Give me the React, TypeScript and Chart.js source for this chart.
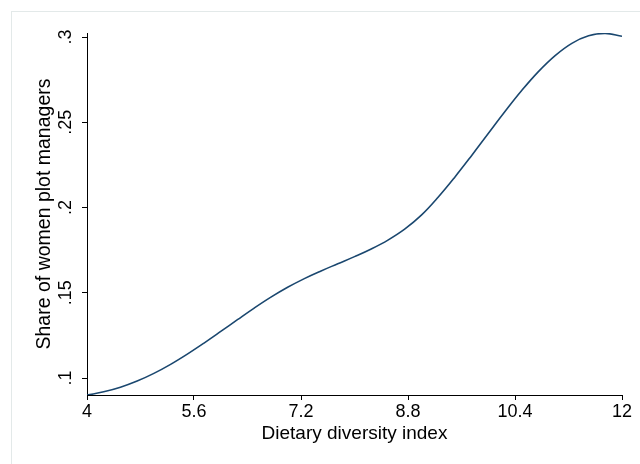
import React, { useEffect, useRef } from "react";
import { Chart, registerables } from "chart.js";

Chart.register(...registerables);

const xValues = [4, 4.25, 4.5, 4.75, 5, 5.25, 5.5, 5.75, 6, 6.25, 6.5, 6.75, 7, 7.25, 7.5, 7.75, 8, 8.25, 8.5, 8.75, 9, 9.25, 9.5, 9.75, 10, 10.25, 10.5, 10.75, 11, 11.25, 11.5, 11.75, 12];
const shareValues = [0.09, 0.0919, 0.0946, 0.0982, 0.1027, 0.108, 0.114, 0.1205, 0.1273, 0.1342, 0.141, 0.1474, 0.1532, 0.1583, 0.1628, 0.167, 0.1712, 0.1757, 0.1809, 0.1873, 0.1955, 0.206, 0.2178, 0.2304, 0.2434, 0.2563, 0.2686, 0.2797, 0.2891, 0.2963, 0.3007, 0.3021, 0.3004];
const xTicks = [4, 5.6, 7.2, 8.8, 10.4, 12];
const xTickLabels = ["4", "5.6", "7.2", "8.8", "10.4", "12"];
const yTicks = [0.1, 0.15, 0.2, 0.25, 0.3];
const yTickLabels = [".1", ".15", ".2", ".25", ".3"];
const xTitle = "Dietary diversity index";
const yTitle = "Share of women plot managers";

const FONT = "Arial, 'Liberation Sans', Helvetica, sans-serif";

const framePlugin = {
  id: "frame",
  beforeDraw(chart: any) {
    const ctx = chart.ctx;
    ctx.save();
    ctx.fillStyle = "#ffffff";
    ctx.fillRect(0, 0, chart.width, chart.height);
    ctx.strokeStyle = "#e3e9e9";
    ctx.lineWidth = 1;
    ctx.strokeRect(11.5, 11.5, 800, 800);
    ctx.restore();
  },
};

export default function App() {
  const ref = useRef<HTMLCanvasElement | null>(null);
  useEffect(() => {
    document.body.style.margin = "0";
    const canvas = ref.current;
    if (!canvas) return;
    const chart = new Chart(canvas, {
      type: "line",
      data: {
        datasets: [
          {
            data: xValues.map((x, i) => ({ x, y: shareValues[i] })),
            borderColor: "#1a476f",
            borderWidth: 1.6,
            pointRadius: 0,
            fill: false,
            tension: 0.4,
          },
        ],
      },
      options: {
        animation: false,
        responsive: false,
        devicePixelRatio: 1,
        layout: { padding: { top: 33, right: 18, left: 0, bottom: 0 } },
        plugins: { legend: { display: false }, tooltip: { enabled: false } },
        scales: {
          x: {
            type: "linear",
            min: 4,
            max: 12,
            afterFit: (s: any) => {
              s.height = 69;
            },
            afterBuildTicks: (s: any) => {
              s.ticks = xTicks.map((v) => ({ value: v }));
            },
            ticks: {
              callback: (v: any) => xTickLabels[xTicks.indexOf(Number(v))] ?? "",
              font: { family: FONT, size: 18 },
              color: "#000",
              padding: 1,
              maxRotation: 0,
              minRotation: 0,
            },
            grid: { drawOnChartArea: false, drawTicks: true, tickLength: 5, color: "#000" },
            border: { display: true, color: "#000", width: 1 },
            title: {
              display: true,
              text: xTitle,
              font: { family: FONT, size: 19 },
              color: "#000",
              padding: { top: 0, bottom: 18.5 },
            },
          },
          y: {
            type: "linear",
            min: 0.09003,
            max: 0.30235,
            afterFit: (s: any) => {
              s.width = 87;
            },
            afterBuildTicks: (s: any) => {
              s.ticks = yTicks.map((v) => ({ value: v }));
            },
            ticks: {
              callback: (v: any) => {
                const i = yTicks.findIndex((t) => Math.abs(t - Number(v)) < 1e-9);
                return i >= 0 ? yTickLabels[i] : "";
              },
              font: { family: FONT, size: 18 },
              color: "#000",
              minRotation: 90,
              maxRotation: 90,
              crossAlign: "center",
              padding: 3,
            },
            grid: { drawOnChartArea: false, drawTicks: true, tickLength: 5, color: "#000" },
            border: { display: true, color: "#000", width: 1 },
            title: {
              display: true,
              text: yTitle,
              font: { family: FONT, size: 19.5 },
              color: "#000",
              padding: { top: 33, bottom: 0 },
            },
          },
        },
      },
      plugins: [framePlugin],
    } as any);
    return () => chart.destroy();
  }, []);
  return (
    <div style={{ width: 640, height: 464 }}>
      <canvas ref={ref} width={640} height={464} style={{ display: "block" }} />
    </div>
  );
}
